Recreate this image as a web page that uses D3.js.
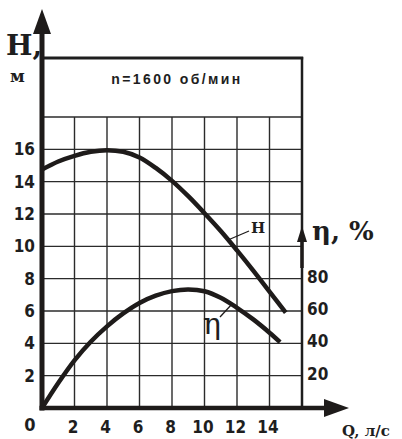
<!DOCTYPE html>
<meta charset="utf-8">
<style>
body { margin: 0; background: #fff; }
.grid line { stroke: #2b2b2b; stroke-width: 1.4px; }
.tick text { font-family: "DejaVu Sans Condensed", "DejaVu Sans", sans-serif; font-stretch: condensed; font-weight: bold; font-size: 17px; fill: #1e1e1e; }
.curve { fill: none; stroke: #1e1b1a; stroke-width: 4.5px; }
.lab { font-family: "DejaVu Serif", serif; font-weight: bold; fill: #1e1e1e; }
</style>
<svg width="402" height="439"></svg>
<script src="https://cdn.jsdelivr.net/npm/d3@7"></script>
<script>

// head curve H (m) vs flow Q (l/s)
var qH = [0, 1, 2, 3, 4, 5, 6, 7, 8, 9, 10, 11, 12, 13, 14, 15];
var hVals = [14.75, 15.25, 15.6, 15.85, 15.95, 15.85, 15.5, 14.85, 14.05, 13.1, 12.05, 10.95, 9.75, 8.5, 7.2, 5.9];

// efficiency curve eta (%) vs Q
var qEta = [0, 1, 2, 3, 4, 5, 6, 7, 8, 9, 10, 11, 12, 13, 14, 14.65];
var etaVals = [0, 15.5, 29.5, 41, 50.5, 58.5, 65, 69.5, 72.3, 73.3, 72.2, 68.2, 62, 54.8, 46.6, 40.8];

var qTicks = [2, 4, 6, 8, 10, 12, 14];
var hTicks = [2, 4, 6, 8, 10, 12, 14, 16];
var etaTicks = [20, 40, 60, 80];
var title = "n=1600 об/мин";

var svg = d3.select("svg");

var x = d3.scaleLinear().domain([0, 16]).range([42, 302]),
    y = d3.scaleLinear().domain([0, 18]).range([408, 117]),
    yEta = d3.scaleLinear().domain([0, 180]).range([408, 117]);

// grid
var grid = svg.append("g").attr("class", "grid");
grid.selectAll(".v")
  .data(qTicks)
  .enter().append("line")
    .attr("x1", d => x(d)).attr("x2", d => x(d))
    .attr("y1", y(0)).attr("y2", y(18));
grid.selectAll(".h")
  .data(hTicks.concat([18]))
  .enter().append("line")
    .attr("x1", x(0)).attr("x2", x(16))
    .attr("y1", d => y(d)).attr("y2", d => y(d));

// right border of grid + title box
svg.append("line")
  .attr("x1", x(16)).attr("x2", x(16))
  .attr("y1", y(0)).attr("y2", 57)
  .attr("stroke", "#1e1e1e").attr("stroke-width", 2.5);
svg.append("line")
  .attr("x1", x(0)).attr("x2", x(16) + 1.2)
  .attr("y1", 58).attr("y2", 58)
  .attr("stroke", "#1e1e1e").attr("stroke-width", 3);

svg.append("text")
  .attr("class", "lab")
  .attr("x", (x(0) + x(16)) / 2 + 5)
  .attr("y", 84)
  .attr("text-anchor", "middle")
  .style("font-family", "'Liberation Sans', sans-serif")
  .style("font-size", "14px")
  .style("letter-spacing", "2.4px")
  .text(title);

// curves
var line = d3.line().curve(d3.curveCatmullRom);
svg.append("path")
  .attr("class", "curve")
  .attr("d", line(qH.map((q, i) => [x(q), y(hVals[i])])));
svg.append("path")
  .attr("class", "curve")
  .attr("d", line(qEta.map((q, i) => [x(q), yEta(etaVals[i])])));

// axes labels
svg.append("g")
  .attr("transform", "translate(" + x(0) + ",0)")
  .call(d3.axisLeft(y).tickValues(hTicks).tickSize(0).tickPadding(7))
  .call(g => g.select(".domain").remove());

svg.append("g")
  .attr("transform", "translate(0," + y(0) + ")")
  .call(d3.axisBottom(x).tickValues(qTicks).tickSize(0).tickPadding(13).tickFormat(d3.format("d")))
  .call(g => g.select(".domain").remove())
  .selectAll("text").attr("dx", -2);

svg.append("g")
  .attr("transform", "translate(" + x(16) + ",0)")
  .call(d3.axisRight(yEta).tickValues(etaTicks).tickSize(0).tickPadding(5))
  .call(g => g.select(".domain").remove())
  .selectAll("text").attr("dy", "0.2em");

svg.append("text")
  .attr("x", 30).attr("y", 431)
  .attr("text-anchor", "middle")
  .style("font-family", "'DejaVu Sans Condensed', 'DejaVu Sans', sans-serif")
  .style("font-stretch", "condensed")
  .style("font-weight", "bold").style("font-size", "18px")
  .attr("fill", "#1e1e1e")
  .text("0");

// main axes with arrows
var dark = "#1e1b1a";
svg.append("line")
  .attr("x1", x(0)).attr("x2", x(0))
  .attr("y1", y(0) + 2.5).attr("y2", 30)
  .attr("stroke", dark).attr("stroke-width", 5);
svg.append("path")
  .attr("d", "M" + x(0) + ",9L" + (x(0) + 9) + ",34L" + (x(0) - 9) + ",34Z")
  .attr("fill", dark);

svg.append("line")
  .attr("x1", x(0) - 2.5).attr("x2", 328)
  .attr("y1", y(0)).attr("y2", y(0))
  .attr("stroke", dark).attr("stroke-width", 4.5);
svg.append("path")
  .attr("d", "M349," + y(0) + "L324," + (y(0) - 9) + "L324," + (y(0) + 9) + "Z")
  .attr("fill", dark);

// eta axis arrow
svg.append("line")
  .attr("x1", x(16)).attr("x2", x(16))
  .attr("y1", 268).attr("y2", 236)
  .attr("stroke", dark).attr("stroke-width", 3.5);
svg.append("path")
  .attr("d", "M" + x(16) + ",226L" + (x(16) + 5) + ",242L" + (x(16) - 5) + ",242Z")
  .attr("fill", dark);

// axis titles
svg.append("text").attr("class", "lab")
  .attr("x", 6).attr("y", 55)
  .style("font-size", "28px")
  .text("H,");
svg.append("text").attr("class", "lab")
  .attr("x", 10).attr("y", 82)
  .style("font-size", "17px")
  .text("м");
svg.append("text").attr("class", "lab")
  .attr("x", 312).attr("y", 240)
  .style("font-size", "26px")
  .text("η, %");
svg.append("text").attr("class", "lab")
  .attr("x", 342).attr("y", 436)
  .style("font-size", "15px")
  .text("Q, л/с");

// curve labels with leaders
svg.append("text").attr("class", "lab")
  .attr("x", 251).attr("y", 233)
  .style("font-size", "15px")
  .text("H");
svg.append("line")
  .attr("x1", 249).attr("y1", 231).attr("x2", 228).attr("y2", 240)
  .attr("stroke", dark).attr("stroke-width", 1.3);
svg.append("text").attr("class", "lab")
  .attr("x", 203).attr("y", 334)
  .style("font-size", "30px")
  .style("font-weight", "normal")
  .text("η");
svg.append("line")
  .attr("x1", 232).attr("y1", 304).attr("x2", 220).attr("y2", 317)
  .attr("stroke", dark).attr("stroke-width", 1.3);

</script>
